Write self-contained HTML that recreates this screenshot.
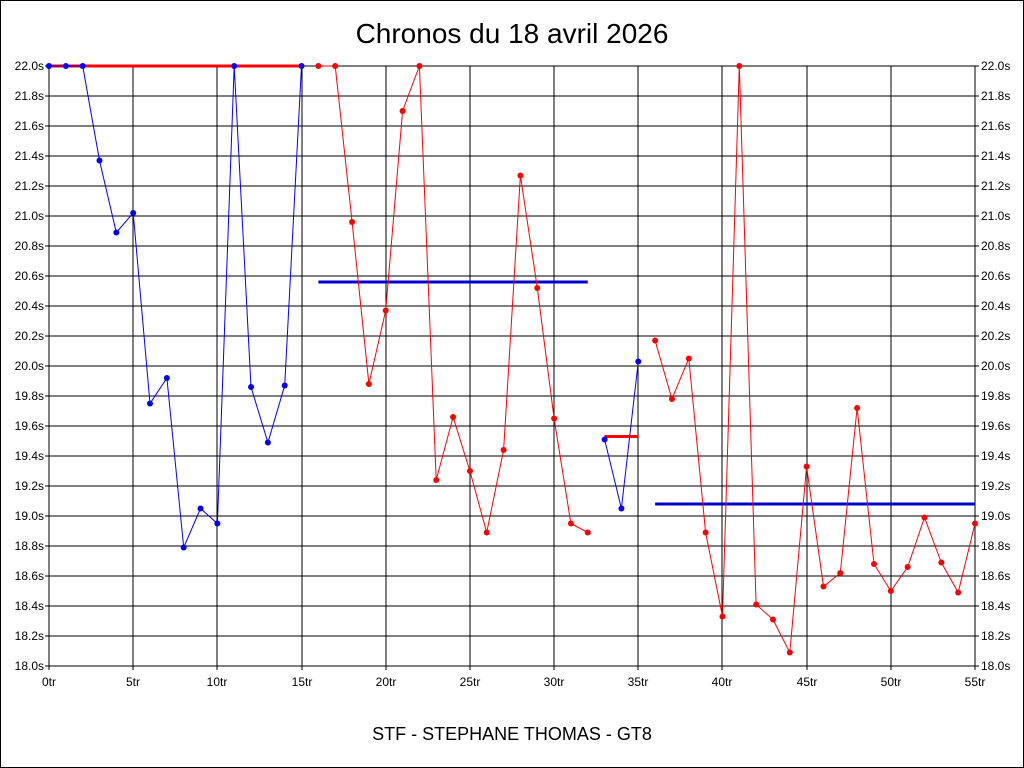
<!DOCTYPE html>
<html><head><meta charset="utf-8"><style>
html,body{margin:0;padding:0;background:#fff}
svg{display:block}
text{font-family:"Liberation Sans",sans-serif}
</style></head><body>
<svg id="s" width="1024" height="768" xmlns="http://www.w3.org/2000/svg">
<rect x="0.5" y="0.5" width="1023" height="767" fill="#fff" stroke="#000"/>
<text x="512" y="43" font-size="28" text-anchor="middle">Chronos du 18 avril 2026</text>
<text x="512" y="740" font-size="18" text-anchor="middle">STF - STEPHANE THOMAS - GT8</text>
<g id="grid" shape-rendering="crispEdges"></g>
<g id="g"></g>
</svg>
<script>
var g=document.getElementById('g'),gr=document.getElementById('grid'),NS='http://www.w3.org/2000/svg';
function X(l){return 49+l*926/55}
function Y(v){return 666-(v-18)*150}
function el(t,a,txt,p){var e=document.createElementNS(NS,t);for(var k in a)e.setAttribute(k,a[k]);if(txt!=null)e.textContent=txt;(p||g).appendChild(e);return e}
el('rect',{x:49,y:66,width:926,height:600,fill:'none',stroke:'#000'},null,gr);
for(var i=0;i<=20;i++){var v=18+i*0.2,y=Math.round(Y(v));
 el('line',{x1:49,x2:975,y1:y,y2:y,stroke:'#000','stroke-width':1},null,gr);
 el('line',{x1:45,x2:49,y1:y,y2:y,stroke:'#000'},null,gr);el('line',{x1:975,x2:979,y1:y,y2:y,stroke:'#000'},null,gr);
 el('text',{x:44,y:y+4,'font-size':12,'text-anchor':'end'},v.toFixed(1)+'s');
 el('text',{x:981,y:y+4,'font-size':12},v.toFixed(1)+'s');}
for(var l=0;l<=55;l+=5){var x=Math.round(X(l));
 el('line',{x1:x,x2:x,y1:66,y2:670,stroke:'#000'},null,gr);
 el('text',{x:x,y:686,'font-size':12,'text-anchor':'middle'},l+'tr');}
function series(start,vals,col){var p=vals.map(function(v,i){return X(start+i).toFixed(1)+','+Y(v).toFixed(1)}).join(' ');
 el('polyline',{points:p,fill:'none',stroke:col,'stroke-width':1});
 vals.forEach(function(v,i){el('circle',{cx:X(start+i),cy:Y(v),r:3,fill:col})});}
function hl(a,b,v,col){el('line',{x1:X(a),x2:X(b),y1:Y(v),y2:Y(v),stroke:col,'stroke-width':3})}
hl(0,15,22,'#f00');hl(16,32,20.56,'#00c');hl(33,35,19.53,'#f00');hl(36,55,19.08,'#00c');
series(0,[22,22,22,21.37,20.89,21.02,19.75,19.92,18.79,19.05,18.95,22,19.86,19.49,19.87,22],'#00f');
series(16,[22,22,20.96,19.88,20.37,21.7,22,19.24,19.66,19.3,18.89,19.44,21.27,20.52,19.65,18.95,18.89],'#f00');
series(33,[19.51,19.05,20.03],'#00f');
series(36,[20.17,19.78,20.05,18.89,18.33,22,18.41,18.31,18.09,19.33,18.53,18.62,19.72,18.68,18.5,18.66,18.99,18.69,18.49,18.95],'#f00');
</script>
</body></html>
